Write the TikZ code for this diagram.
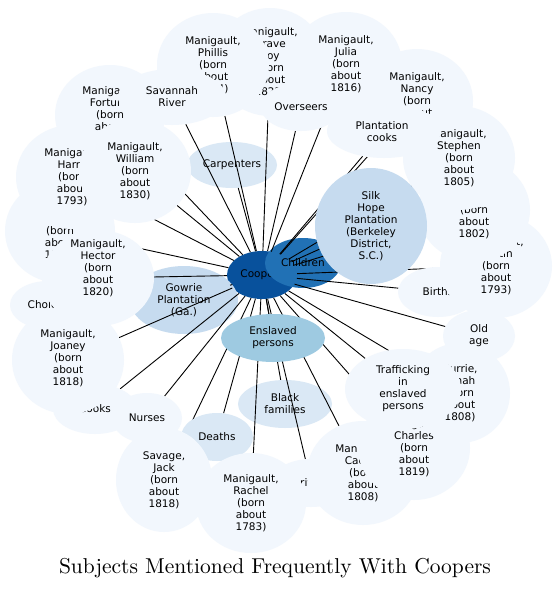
\documentclass[tikz,border=0pt]{standalone}
\usepackage{fontspec}
\newfontfamily\labfont{DejaVu Sans}
\newfontfamily\titlefont{lmroman10-regular}[Extension=.otf]
\usetikzlibrary{shapes.geometric}
\pgfdeclarelayer{bg}
\pgfdeclarelayer{base}
\pgfdeclarelayer{edges}
\pgfdeclarelayer{top}
\pgfsetlayers{bg,base,edges,main,top}
\definecolor{cA}{HTML}{08519C}
\definecolor{cB}{HTML}{2171B5}
\definecolor{cC}{HTML}{9ECAE1}
\definecolor{cD}{HTML}{C6DBEF}
\definecolor{cE}{HTML}{DAE8F5}
\definecolor{cL}{HTML}{F2F7FD}
\begin{document}
\begin{tikzpicture}[x=1pt,y=-1pt,
  bub/.style={ellipse, inner sep=0pt, align=center, draw=none,
    font=\labfont\fontsize{10.5}{12}\selectfont},
  lt/.style={bub, fill=cL},
  txt/.style={inner sep=0pt, align=center, font=\labfont\fontsize{10.5}{12}\selectfont},
  edge/.style={draw=black, line width=0.9pt}]
\begin{pgfonlayer}{bg}
\fill[white] (0,0) rectangle (557,590);
\end{pgfonlayer}
\useasboundingbox (0,0) rectangle (557,590);
\begin{pgfonlayer}{base}
\node[bub, fill=cA, minimum width=70, minimum height=48] (coopers) at (262,275) {Coopers};
\node[bub, fill=cB, minimum width=76, minimum height=50] (children) at (303,263) {Children};
\node[bub, fill=cE, minimum width=90, minimum height=46] (carp) at (232,165) {Carpenters};
\node[bub, fill=cD, minimum width=108, minimum height=68] (gowrie) at (184,300) {Gowrie\\Plantation\\(Ga.)};
\node[bub, fill=cE, minimum width=94, minimum height=48] (blackf) at (285,404) {Black\\families};
\end{pgfonlayer}
% bubbles over the connectors, order matters
\node[bub, fill=cC, minimum width=104, minimum height=48] (enslaved) at (273,338) {Enslaved\\persons};
\node[lt, minimum width=112, minimum height=108] (grave) at (270,62) {Manigault,\\Grave\\boy\\(born\\about\\1825)};
\node[lt, minimum width=112, minimum height=104] (julia) at (346,64) {Manigault,\\Julia\\(born\\about\\1816)};
\node[lt, minimum width=112, minimum height=104] (phillis) at (213,65) {Manigault,\\Phillis\\(born\\about\\1814)};
\node[lt, minimum width=110, minimum height=100] (fortune) at (110,115) {Manigault,\\Fortune\\(born\\about\\1800)};
\node[lt, minimum width=108, minimum height=56] (savannah) at (172,97) {Savannah\\River};
\node[lt, minimum width=80, minimum height=48] (overseers) at (301,107) {Overseers};
\node[lt, minimum width=110, minimum height=104] (prince) at (60,231) {Manigault,\\Prince\\(born\\about\\1796)};
\node[lt, minimum width=112, minimum height=104] (harry) at (72,177) {Manigault,\\Harry\\(born\\about\\1793)};
\node[lt, minimum width=112, minimum height=104] (william) at (135,171) {Manigault,\\William\\(born\\about\\1830)};
\node[lt, minimum width=76, minimum height=48] (cholera) at (48,305) {Cholera};
\node[lt, minimum width=112, minimum height=96] (hector) at (98,278) {};
\node[txt] (hectortext) at (98,268) {Manigault,\\Hector\\(born\\about\\1820)};
\node[lt, minimum width=84, minimum height=50] (cooks) at (95,409) {Cooks};
\node[lt, minimum width=112, minimum height=108] (joaney) at (68,360) {};
\node[txt] (joaneytext) at (68,358) {Manigault,\\Joaney\\(born\\about\\1818)};
\node[lt, minimum width=70, minimum height=50] (nurses) at (147,418) {Nurses};
\node[bub, fill=cE, minimum width=72, minimum height=48] (deaths) at (217,437) {Deaths};
\node[lt, minimum width=96, minimum height=104] (savage) at (164,480) {Savage,\\Jack\\(born\\about\\1818)};
\node[lt, minimum width=80, minimum height=48] (drivers) at (311,483) {Drivers};
\node[lt, minimum width=110, minimum height=100] (rachel) at (251,503) {Manigault,\\Rachel\\(born\\about\\1783)};
\node[lt, minimum width=112, minimum height=104] (caesar) at (363,473) {Manigault,\\Caesar\\(born\\about\\1808)};
\node[lt, minimum width=112, minimum height=104] (charles) at (414,448) {Manigault,\\Charles\\(born\\about\\1819)};
\node[lt, minimum width=100, minimum height=100] (currie) at (460,393) {Currie,\\Dinah\\(born\\about\\1808)};
\node[lt, minimum width=116, minimum height=80] (traff) at (403,389) {Trafficking\\in\\enslaved\\persons};
\node[lt, minimum width=72, minimum height=52] (oldage) at (479,336) {Old\\age};
\node[lt, minimum width=80, minimum height=50] (births) at (438,292) {Births};
\node[lt, minimum width=112, minimum height=104] (martin) at (496,266) {Manigault,\\Martin\\(born\\about\\1793)};
\node[lt, minimum width=112, minimum height=104] (sarah) at (474,210) {Manigault,\\Sarah\\(born\\about\\1802)};
\node[lt, minimum width=112, minimum height=104] (nancy) at (417,101) {Manigault,\\Nancy\\(born\\about\\1810)};
\node[lt, minimum width=112, minimum height=104] (stephen) at (459,158) {Manigault,\\Stephen\\(born\\about\\1805)};
\node[lt, minimum width=114, minimum height=54] (pcooks) at (384,131) {};
\node[txt] (pcookstext) at (382,132) {Plantation\\cooks};
\begin{pgfonlayer}{top}
\node[bub, fill=cD, minimum width=112, minimum height=116] (silk) at (371,226) {Silk\\Hope\\Plantation\\(Berkeley\\District,\\S.C.)};
\end{pgfonlayer}
\begin{pgfonlayer}{edges}
\foreach \t in {carp,gowrie,blackf,enslaved,grave,julia,phillis,fortune,savannah,overseers,prince,harry,william,hector,cooks,joaney,nurses,deaths,savage,drivers,rachel,caesar,charles,currie,traff,oldage,births,martin,sarah,nancy,stephen,pcooks,silk}
  \draw[edge] (coopers) -- (\t);
\end{pgfonlayer}
\node[font=\titlefont\fontsize{21.5}{25}\selectfont] (title) at (275,568) {Subjects Mentioned Frequently With Coopers};
\end{tikzpicture}
\end{document}
